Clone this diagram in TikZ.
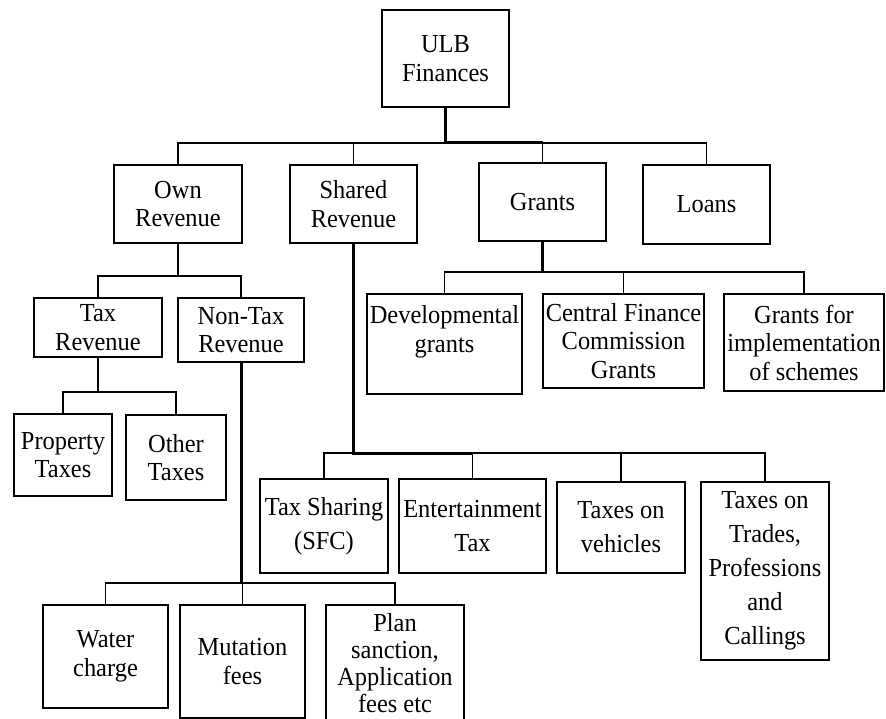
\documentclass[tikz,border=0pt]{standalone}
\usepackage{fontspec}
\setmainfont{Liberation Serif}[FakeStretch=0.94]
\tikzset{
  box/.style={draw, line width=1.6pt, inner sep=0pt, align=center, font=\fontsize{26}{28.5}\selectfont},
  boxtext/.style={inner sep=0pt, align=center, font=\fontsize{26}{27}\selectfont},
  tall/.style={font=\fontsize{26}{34}\selectfont},
  conn/.style={line width=1.6pt},
  mid/.style={line width=2.2pt},
  trunk/.style={line width=3pt},
}
\begin{document}
\begin{tikzpicture}[x=1pt,y=-1pt]
\useasboundingbox (0,0) rectangle (886,719);
\clip (0,0) rectangle (886,719);
% bus levels
\coordinate (b0) at (0,143);
\coordinate (b1) at (0,276);
\coordinate (b2) at (0,392);
\coordinate (b3) at (0,583);
\coordinate (b4) at (0,272);
\coordinate (b5) at (0,453);
% boxes
\node[box, minimum width=127pt, minimum height=97pt] (ulb) at (445.5,58.5) {ULB\\Finances};
\node[box, minimum width=128pt, minimum height=78pt] (own) at (178,204) {Own\\Revenue};
\node[box, minimum width=127pt, minimum height=78pt] (shared) at (353.5,204) {Shared\\Revenue};
\node[box, minimum width=127pt, minimum height=78pt] (grants) at (542.5,202) {Grants};
\node[box, minimum width=127pt, minimum height=79pt] (loans) at (706.5,204.5) {Loans};
\node[box, minimum width=128pt, minimum height=59pt] (taxrev) at (98,327.5) {Tax\\Revenue};
\node[box, minimum width=126pt, minimum height=64pt] (nontax) at (241,330) {Non-Tax\\Revenue};
\node[box, minimum width=98pt, minimum height=82pt] (prop) at (63,455) {Property\\Taxes};
\node[box, minimum width=100pt, minimum height=85pt] (other) at (176,457.5) {Other\\Taxes};
\node[box, minimum width=125pt, minimum height=103pt] (water) at (105.5,656.5) {Water\\charge};
\node[box, minimum width=125pt, minimum height=113pt] (mut) at (242.5,661.5) {Mutation\\fees};
\node[box, minimum width=138pt, minimum height=128pt] (plan) at (395,669) {};
\node[boxtext] (plantext) at ([yshift=6pt]plan.center) {Plan\\sanction,\\Application\\fees etc};
\node[box, minimum width=155pt, minimum height=100pt] (dev) at (444.5,344) {Developmental\\grants\\[2pt]};
\node[box, minimum width=161pt, minimum height=94pt] (cfc) at (623.5,341) {Central Finance\\Commission\\Grants};
\node[box, minimum width=160pt, minimum height=97pt] (gfi) at (804,342.5) {Grants for\\implementation\\of schemes};
\node[box, tall, minimum width=128pt, minimum height=94pt] (tshare) at (324,526) {Tax Sharing\\(SFC)};
\node[box, tall, minimum width=147pt, minimum height=94pt] (ent) at (472.5,526) {Entertainment\\Tax};
\node[box, tall, minimum width=128pt, minimum height=91pt] (veh) at (621,527.5) {Taxes on\\vehicles};
\node[box, tall, minimum width=128pt, minimum height=178pt] (trades) at (765,571) {Taxes on\\Trades,\\Professions\\and\\Callings};
% ULB level
\draw[conn] (own.north) |- (loans.north|-b0) -- (loans.north);
\draw[conn] (shared.north) -- (shared.north|-b0);
\draw[conn] (grants.north) -- (grants.north|-b0);
\draw[trunk] (ulb.south) -- (ulb.south|-b0) -- (grants.north|-b0);
% Own revenue
\draw[conn] (own.south) -- (own.south|-b1);
\draw[conn] (taxrev.north) |- (nontax.north|-b1) -- (nontax.north);
% Tax revenue
\draw[conn] (taxrev.south) -- (taxrev.south|-b2);
\draw[conn] (prop.north) |- (other.north|-b2) -- (other.north);
% Non-tax revenue
\draw[conn] (water.north) |- (plan.north|-b3) -- (plan.north);
\draw[conn] (mut.north) -- (mut.north|-b3);
\draw[trunk] (nontax.south) -- (nontax.south|-b3);
% Grants
\draw[conn] (dev.north) |- (gfi.north|-b4) -- (gfi.north);
\draw[conn] (cfc.north) -- (cfc.north|-b4);
\draw[trunk] (grants.south) -- (grants.south|-b4);
% Shared revenue
\draw[conn] (tshare.north) |- (trades.north|-b5) -- (trades.north);
\draw[conn] (ent.north) -- (ent.north|-b5);
\draw[conn] (veh.north) -- (veh.north|-b5);
\draw[mid] (ent.north|-b5) -- (veh.north|-b5);
\draw[trunk] (shared.south) -- (shared.south|-b5) -- (ent.north|-b5);
\end{tikzpicture}
\end{document}
